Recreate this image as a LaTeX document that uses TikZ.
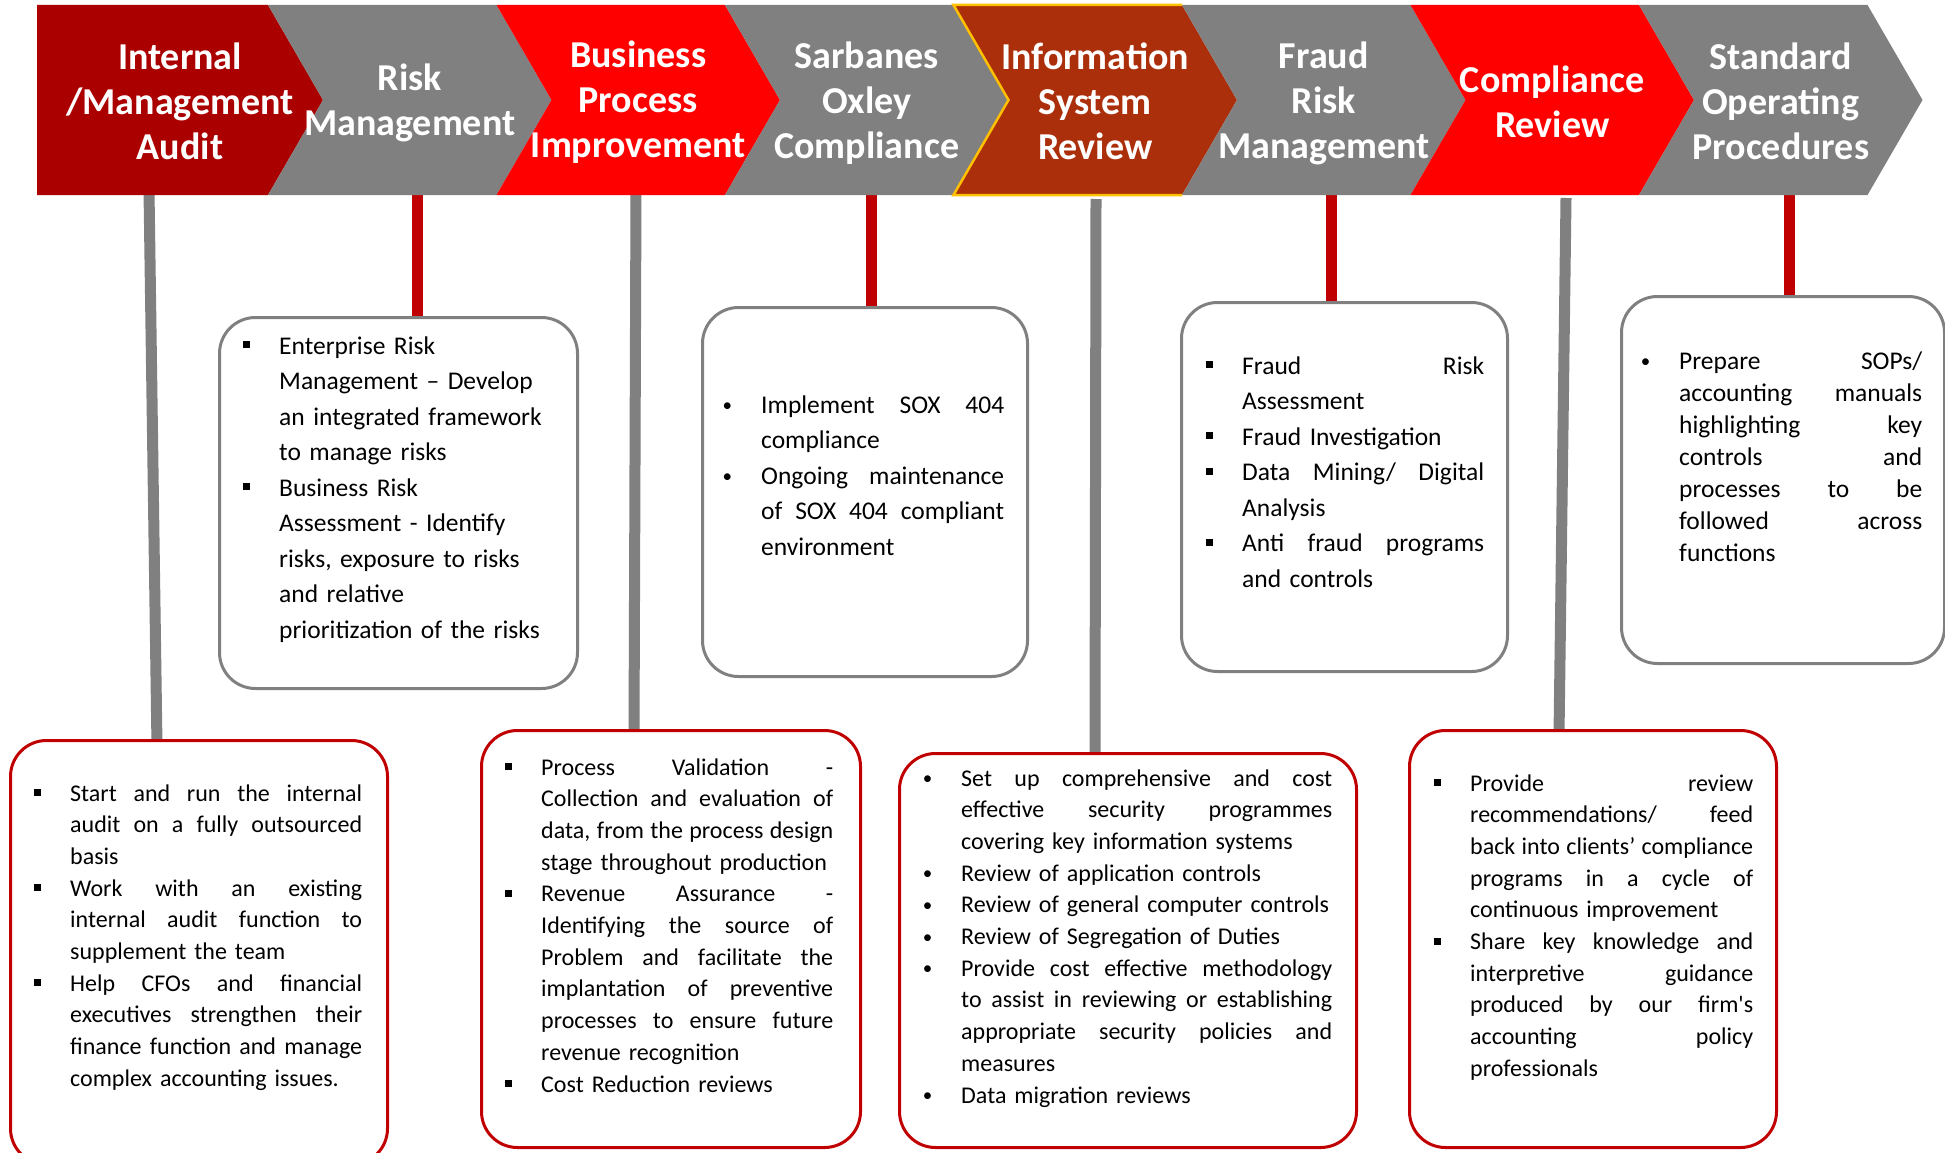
\documentclass[tikz,border=0pt]{standalone}
\usepackage{fontspec}
\setmainfont{Carlito}
\definecolor{dkred}{RGB}{170,0,0}
\definecolor{cgray}{RGB}{128,128,128}
\definecolor{cred}{RGB}{255,0,0}
\definecolor{isr}{RGB}{171,47,11}
\definecolor{goldline}{RGB}{255,192,0}
\definecolor{stemred}{RGB}{192,0,0}
\newcommand{\sqb}[1][5]{\rule[#1pt]{7pt}{7pt}}
\newcommand{\rdb}{\raisebox{1.5pt}{\fontsize{19}{19}\selectfont •}}
\newcommand{\bl}[1]{\leavevmode\llap{#1\hspace{29pt}}}
\newcommand{\jl}[1]{\leavevmode\hbox to \hsize{\spaceskip=0.22em plus 1fil\relax#1}}
\begin{document}
\begin{tikzpicture}[x=1pt,y=-1pt,
  ttl/.style={text=white, font=\bfseries\fontsize{38}{45}\selectfont, align=center, inner sep=0pt},
  topbox/.style={draw=cgray, line width=3pt, fill=white, rounded corners=36pt, inner sep=0pt, anchor=north west},
  botbox/.style={draw=stemred, line width=3pt, fill=white, rounded corners=36pt, inner sep=0pt, anchor=north west},
  toptxt/.style={anchor=base west, inner sep=0pt, font=\fontsize{25.5}{35.5}\selectfont},
  soptxt/.style={anchor=base west, inner sep=0pt, font=\fontsize{25.5}{32}\selectfont},
  bottxt/.style={anchor=base west, inner sep=0pt, font=\fontsize{24}{31.7}\selectfont},
  graystem/.style={draw=cgray, line width=11pt},
  redstem/.style={draw=stemred, line width=11pt}]
\useasboundingbox (0,0) rectangle (1945,1153);
% stems
\coordinate (s1a) at (149,190); \coordinate (s1b) at (157,746);
\coordinate (s2a) at (417,190); \coordinate (s2b) at (417,322);
\coordinate (s3a) at (636,190); \coordinate (s3b) at (634,735);
\coordinate (s4a) at (871,190); \coordinate (s4b) at (871,312);
\coordinate (s5a) at (1096,199); \coordinate (s5b) at (1095,758);
\coordinate (s6a) at (1331,190); \coordinate (s6b) at (1331,307);
\coordinate (s7a) at (1566,198); \coordinate (s7b) at (1559,735);
\coordinate (s8a) at (1789,190); \coordinate (s8b) at (1789,301);
\draw[graystem] (s1a) -- (s1b);
\draw[redstem] (s2a) -- (s2b);
\draw[graystem] (s3a) -- (s3b);
\draw[redstem] (s4a) -- (s4b);
\draw[graystem] (s5a) -- (s5b);
\draw[redstem] (s6a) -- (s6b);
\draw[graystem] (s7a) -- (s7b);
\draw[redstem] (s8a) -- (s8b);
% chevrons
\fill[dkred] (37,5) -- (268,5) -- (323,100) -- (268,195) -- (37,195) -- cycle;
\foreach \i/\col in {1/cgray,2/cred,3/cgray,4/isr,5/cgray,6/cred,7/cgray} {
  \pgfmathsetmacro\L{268+228.5*(\i-1)}
  \pgfmathsetmacro\R{268+228.5*\i}
  \fill[\col] (\L,5) -- (\R,5) -- (\R+55,100) -- (\R,195) -- (\L,195) -- (\L+55,100) -- cycle;
}
\draw[goldline, line width=2.5pt] (1182,5) -- (953.5,5) -- (1008.5,100) -- (953.5,195) -- (1182,195);
\node[ttl] (t1) at (180,101) {Internal\\/Management\\Audit};
\node[ttl] (t2) at (409.75,103) {Risk\\Management};
\node[ttl] (t3) at (638.25,102) {Business\\Process\\Improvement};
\node[ttl] (t4) at (866.75,103) {Sarbanes\\Oxley\\Compliance};
\node[ttl] (t5) at (1095.25,101) {Information\\System\\Review};
\node[ttl] (t6) at (1323.75,103.5) {Fraud\\Risk\\Management};
\node[ttl] (t7) at (1552.25,102) {Compliance\\Review};
\node[ttl] (t8) at (1780.75,101.5) {Standard\\Operating\\Procedures};
% boxes
\node[topbox, minimum width=358pt, minimum height=371pt] (bA) at (218,316) {};
\node[topbox, minimum width=325pt, minimum height=369pt] (bB) at (701,306) {};
\node[topbox, minimum width=326pt, minimum height=369pt] (bC) at (1180,301) {};
\node[topbox, minimum width=323pt, minimum height=367pt] (bD) at (1620,295) {};
\node[botbox, minimum width=377pt, minimum height=424pt] (bE) at (9,739) {};
\node[botbox, minimum width=379pt, minimum height=417pt] (bF) at (480,729) {};
\node[botbox, minimum width=457pt, minimum height=394pt] (bG) at (898,752) {};
\node[botbox, minimum width=367pt, minimum height=417pt] (bH) at (1408,729) {};
% texts
\node[toptxt, text width=268pt] (xA) at (279,354) {%
\bl{\sqb[6]}Enterprise Risk\\
Management -- Develop\\
an integrated framework\\
to manage risks\\
\bl{\sqb[6]}Business Risk\\
Assessment - Identify\\
risks, exposure to risks\\
and relative\\
prioritization of the risks};
\node[toptxt, text width=243pt] (xB) at (761,413) {%
\bl{\rdb}\jl{Implement SOX 404}\\
compliance\\
\bl{\rdb}\jl{Ongoing maintenance}\\
\jl{of SOX 404 compliant}\\
environment};
\node[toptxt, text width=242pt] (xC) at (1242,374) {%
\bl{\sqb[6]}\jl{Fraud Risk}\\
Assessment\\
\bl{\sqb[6]}Fraud Investigation\\
\bl{\sqb[6]}\jl{Data Mining/ Digital}\\
Analysis\\
\bl{\sqb[6]}\jl{Anti fraud programs}\\
and controls};
\node[soptxt, text width=243pt] (xD) at (1679,369) {%
\bl{\rdb}\jl{Prepare SOPs/}\\
\jl{accounting manuals}\\
\jl{highlighting key}\\
\jl{controls and}\\
\jl{processes to be}\\
\jl{followed across}\\
functions};
\node[bottxt, text width=292pt] (xE) at (70,801) {%
\bl{\sqb}\jl{Start and run the internal}\\
\jl{audit on a fully outsourced}\\
basis\\
\bl{\sqb}\jl{Work with an existing}\\
\jl{internal audit function to}\\
supplement the team\\
\bl{\sqb}\jl{Help CFOs and financial}\\
\jl{executives strengthen their}\\
\jl{finance function and manage}\\
complex accounting issues.};
\node[bottxt, text width=292pt] (xF) at (541,775) {%
\bl{\sqb}\jl{Process Validation -}\\
\jl{Collection and evaluation of}\\
\jl{data, from the process design}\\
stage throughout production\\
\bl{\sqb}\jl{Revenue Assurance -}\\
\jl{Identifying the source of}\\
\jl{Problem and facilitate the}\\
\jl{implantation of preventive}\\
\jl{processes to ensure future}\\
revenue recognition\\
\bl{\sqb}Cost Reduction reviews};
\node[bottxt, text width=371pt] (xG) at (961,786) {%
\bl{\rdb}\jl{Set up comprehensive and cost}\\
\jl{effective security programmes}\\
covering key information systems\\
\bl{\rdb}Review of application controls\\
\bl{\rdb}Review of general computer controls\\
\bl{\rdb}Review of Segregation of Duties\\
\bl{\rdb}\jl{Provide cost effective methodology}\\
\jl{to assist in reviewing or establishing}\\
\jl{appropriate security policies and}\\
measures\\
\bl{\rdb}Data migration reviews};
\node[bottxt, text width=283pt] (xH) at (1470,791) {%
\bl{\sqb}\jl{Provide review}\\
\jl{recommendations/ feed}\\
\jl{back into clients’ compliance}\\
\jl{programs in a cycle of}\\
continuous improvement\\
\bl{\sqb}\jl{Share key knowledge and}\\
\jl{interpretive guidance}\\
\jl{produced by our firm\textquotesingle s}\\
\jl{accounting policy}\\
professionals};
\end{tikzpicture}
\end{document}
